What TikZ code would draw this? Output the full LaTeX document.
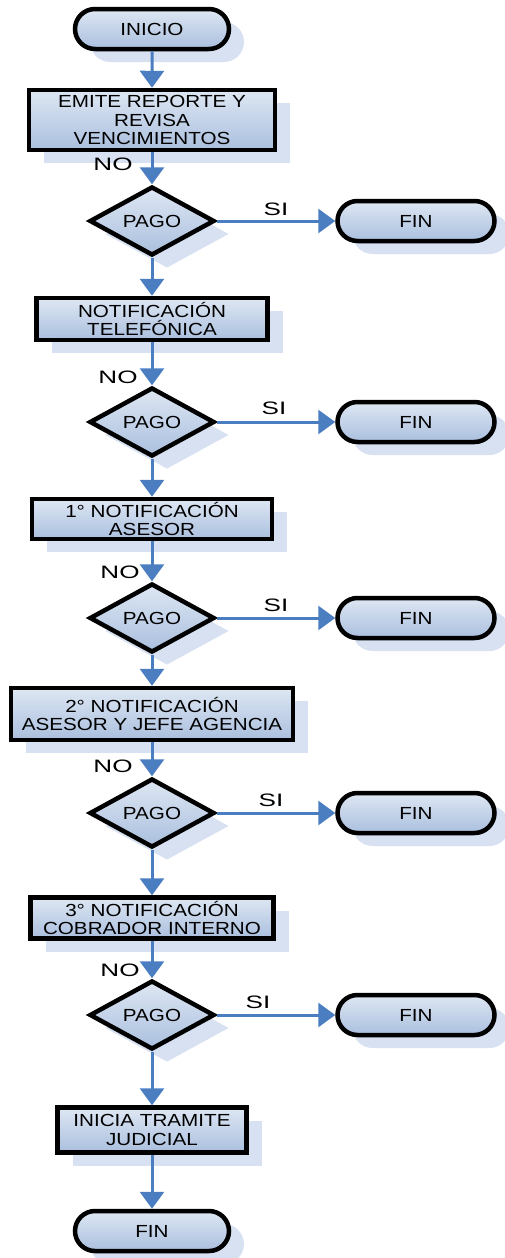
\documentclass[tikz,border=0pt]{standalone}
\usepackage{fontspec}
\setmainfont[FakeStretch=1.18]{Liberation Sans}
\newfontfamily\lblfont[FakeStretch=1.45]{Liberation Sans}
\usetikzlibrary{shapes.geometric,shapes.misc,shadows,arrows.meta}
\definecolor{flowblue}{RGB}{74,126,193}
\definecolor{filltop}{RGB}{222,231,243}
\definecolor{fillbot}{RGB}{170,191,222}
\definecolor{shadowblue}{RGB}{216,225,241}
\tikzset{
  base/.style={draw=black, line width=4.5pt, top color=filltop, bottom color=fillbot,
    drop shadow={shadow xshift=15pt, shadow yshift=-13pt, fill=shadowblue, opacity=1},
    inner sep=0pt, align=center, font=\fontsize{17.5}{18.3}\selectfont},
  term/.style={base, rounded rectangle, minimum width=154pt, minimum height=40pt},
  fin/.style={base, rounded rectangle, minimum width=157pt, minimum height=40pt},
  procbox/.style={base, rectangle},
  decision/.style={base, diamond, aspect=1.75, minimum width=125pt, minimum height=69pt},
  flow/.style={draw=flowblue, line width=3pt, -{Triangle[width=24pt,length=17pt]}},
  lbl/.style={font=\lblfont\fontsize{18}{20}\selectfont, inner sep=0pt}
}
\begin{document}
\begin{tikzpicture}[x=1pt, y=-1pt]
\useasboundingbox (0,0) rectangle (505,1258);

% main column
\node[term] (inicio) at (152,29) {INICIO};
\node[procbox, minimum width=246pt, minimum height=60pt] (emite) at (152,120)
  {EMITE REPORTE Y\\REVISA\\VENCIMIENTOS};
\node[decision] (d1) at (152,221) {PAGO};
\node[procbox, minimum width=231pt, minimum height=42pt] (tel) at (152,319)
  {NOTIFICACIÓN\\TELEFÓNICA};
\node[decision] (d2) at (152,422) {PAGO};
\node[procbox, minimum width=240pt, minimum height=40pt] (ases) at (152,519)
  {1° NOTIFICACIÓN\\ASESOR};
\node[decision] (d3) at (152,618) {PAGO};
\node[procbox, minimum width=282pt, minimum height=52pt] (jefe) at (152,714)
  {2° NOTIFICACIÓN\\ASESOR Y JEFE AGENCIA};
\node[decision] (d4) at (152,813) {PAGO};
\node[procbox, minimum width=243pt, minimum height=41pt] (cobr) at (152,918)
  {3° NOTIFICACIÓN\\COBRADOR INTERNO};
\node[decision] (d5) at (152,1015) {PAGO};
\node[procbox, minimum width=189pt, minimum height=45pt] (jud) at (152,1130)
  {INICIA TRAMITE\\JUDICIAL};
\node[term] (finz) at (152,1231) {FIN};

% exits on the right
\node[fin] (fin1) at (416,221) {FIN};
\node[fin] (fin2) at (416,422) {FIN};
\node[fin] (fin3) at (416,618) {FIN};
\node[fin] (fin4) at (416,813) {FIN};
\node[fin] (fin5) at (416,1015) {FIN};

% vertical flow
\draw[flow] (inicio) -- (emite);
\draw[flow] (emite) -- (d1);
\draw[flow] (d1) -- (tel);
\draw[flow] (tel) -- (d2);
\draw[flow] (d2) -- (ases);
\draw[flow] (ases) -- (d3);
\draw[flow] (d3) -- (jefe);
\draw[flow] (jefe) -- (d4);
\draw[flow] (d4) -- (cobr);
\draw[flow] (cobr) -- (d5);
\draw[flow] (d5) -- (jud);
\draw[flow] (jud) -- (finz);

% "SI" branches
\draw[flow] (d1) -- (fin1);
\draw[flow] (d2) -- (fin2);
\draw[flow] (d3) -- (fin3);
\draw[flow] (d4) -- (fin4);
\draw[flow] (d5) -- (fin5);

% branch labels
\node[lbl] (no1) at (113,164) {NO};
\node[lbl] (no2) at (118,377) {NO};
\node[lbl] (no3) at (120,572) {NO};
\node[lbl] (no4) at (113,766) {NO};
\node[lbl] (no5) at (120,970) {NO};
\node[lbl] (si1) at (276,209) {SI};
\node[lbl] (si2) at (274,408) {SI};
\node[lbl] (si3) at (276,605) {SI};
\node[lbl] (si4) at (271,800) {SI};
\node[lbl] (si5) at (258,1002) {SI};
\end{tikzpicture}
\end{document}
